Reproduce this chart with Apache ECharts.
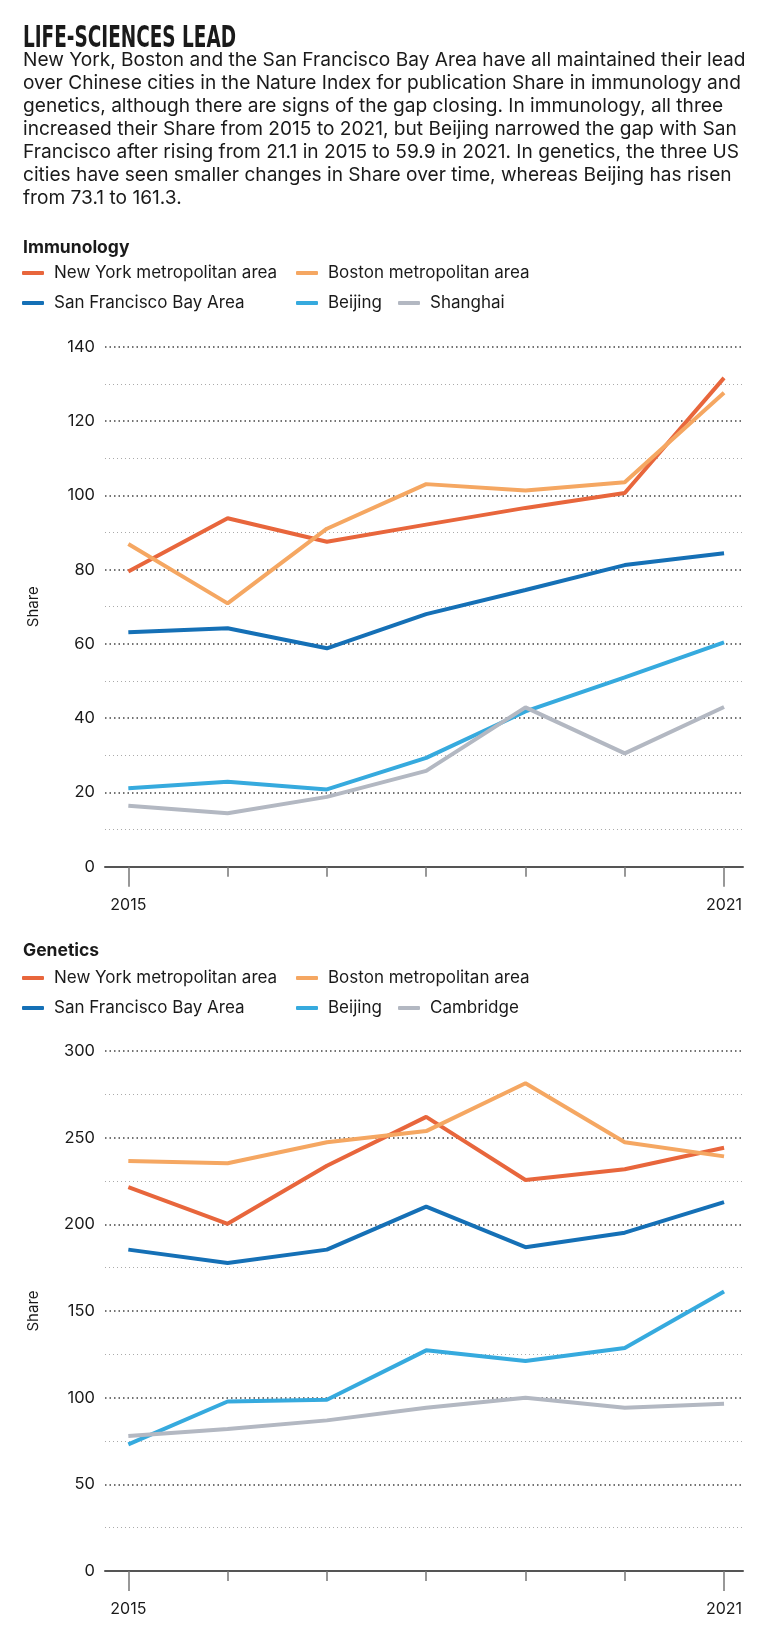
<!DOCTYPE html>
<html>
<head>
<meta charset="utf-8">
<title>Life-sciences lead</title>
<script src="https://cdn.jsdelivr.net/npm/echarts@6/dist/echarts.min.js"></script>
<style>
body { margin: 0; background: #fff; }
#page {
  position: relative;
  width: 767px;
  height: 1644px;
  font-family: Inter, Roboto, "Noto Sans", sans-serif;
  color: #1a1a1a;
}
#chart { position: absolute; left: 0; top: 0; width: 767px; height: 1644px; }
#title {
  position: absolute;
  left: 23px;
  top: 21.5px;
  margin: 0;
  font: bold 30px/30px "Liberation Sans Narrow", "DejaVu Sans Condensed", sans-serif;
  white-space: nowrap;
  transform-origin: left top;
}
#intro {
  position: absolute;
  left: 23px;
  top: 49px;
  margin: 0;
  font-size: 18px;
  line-height: 23px;
  white-space: nowrap;
}
#intro span { display: block; }
.head {
  position: absolute;
  left: 23px;
  margin: 0;
  font-size: 17.5px;
  line-height: 20px;
  font-weight: bold;
}
</style>
</head>
<body>
<div id="page">
  <div id="chart"></div>
  <h1 id="title">LIFE-SCIENCES LEAD</h1>
  <p id="intro"><span>New York, Boston and the San Francisco Bay Area have all maintained their lead</span><span>over Chinese cities in the Nature Index for publication Share in immunology and</span><span>genetics, although there are signs of the gap closing. In immunology, all three</span><span>increased their Share from 2015 to 2021, but Beijing narrowed the gap with San</span><span>Francisco after rising from 21.1 in 2015 to 59.9 in 2021. In genetics, the three US</span><span>cities have seen smaller changes in Share over time, whereas Beijing has risen</span><span>from 73.1 to 161.3.</span></p>
  <p class="head" style="top:237px">Immunology</p>
  <p class="head" style="top:940px">Genetics</p>
</div>
<script>
// years on the x axis
var years = [2015, 2016, 2017, 2018, 2019, 2020, 2021];
var yearLabels = [2015, 2021];

// immunology Share
var immNewYork = [79.5, 93.8, 87.5, 92.1, 96.6, 100.6, 131.6];
var immBoston = [86.9, 70.9, 91.0, 103.0, 101.3, 103.5, 127.6];
var immSanFrancisco = [63.1, 64.2, 58.8, 68.0, 74.5, 81.2, 84.4];
var immBeijing = [21.1, 22.9, 20.8, 29.3, 41.8, 51.0, 60.4];
var immShanghai = [16.4, 14.4, 18.8, 25.8, 42.9, 30.5, 43.0];

// genetics Share
var genNewYork = [221.5, 200.3, 233.8, 262.0, 225.6, 231.8, 244.2];
var genBoston = [236.6, 235.2, 247.4, 253.8, 281.4, 247.4, 239.2];
var genSanFrancisco = [185.4, 177.7, 185.4, 210.2, 186.8, 195.2, 212.8];
var genBeijing = [73.1, 97.8, 98.8, 127.3, 121.2, 128.6, 161.3];
var genCambridge = [77.9, 81.9, 86.9, 94.2, 100.0, 94.2, 96.5];

var colors = {
  "New York metropolitan area": "#e8663c",
  "Boston metropolitan area": "#f5a762",
  "San Francisco Bay Area": "#1570b6",
  "Beijing": "#36aade",
  "Shanghai": "#b3b8c2",
  "Cambridge": "#b3b8c2"
};

var panels = [
  {
    top: 346.7, max: 140, interval: 20, legendTop: 273,
    series: [
      ["New York metropolitan area", immNewYork],
      ["Boston metropolitan area", immBoston],
      ["San Francisco Bay Area", immSanFrancisco],
      ["Beijing", immBeijing],
      ["Shanghai", immShanghai]
    ]
  },
  {
    top: 1051, max: 300, interval: 50, legendTop: 978,
    series: [
      ["New York metropolitan area", genNewYork],
      ["Boston metropolitan area", genBoston],
      ["San Francisco Bay Area", genSanFrancisco],
      ["Beijing", genBeijing],
      ["Cambridge", genCambridge]
    ]
  }
];

// legend item spots: [left, row]
var legendSpots = [[22, 0], [296, 0], [22, 1], [296, 1], [398, 1]];

var xMin = 2014.765;
var xMax = 2021.191;
var textColor = "#1a1a1a";
var font = "Inter, Roboto, 'Noto Sans', sans-serif";

var option = {
  animation: false,
  backgroundColor: "#fff",
  textStyle: { fontFamily: font },
  grid: [],
  xAxis: [],
  yAxis: [],
  legend: [],
  series: []
};

panels.forEach(function (p, pi) {
  option.grid.push({ left: 105, right: 24, top: p.top, height: 520 });

  // axis line with short ticks for every year
  option.xAxis.push({
    type: "value",
    gridIndex: pi,
    position: "bottom",
    min: xMin,
    max: xMax,
    axisLine: { show: true, onZero: false, lineStyle: { color: "#555", width: 2 } },
    axisTick: { show: true, customValues: years, length: 10, lineStyle: { color: "#777", width: 1.5 } },
    axisLabel: { show: false },
    splitLine: { show: false }
  });
  // long ticks and labels at the ends
  option.xAxis.push({
    type: "value",
    gridIndex: pi,
    position: "bottom",
    min: xMin,
    max: xMax,
    axisLine: { show: false, onZero: false },
    axisTick: { show: true, customValues: yearLabels, length: 20, lineStyle: { color: "#777", width: 1.5 } },
    axisLabel: {
      show: true,
      customValues: yearLabels,
      formatter: function (v) { return String(v); },
      fontSize: 16,
      color: textColor,
      margin: 30
    },
    splitLine: { show: false }
  });

  option.yAxis.push({
    type: "value",
    gridIndex: pi,
    min: 0,
    max: p.max,
    interval: p.interval,
    name: "Share",
    nameLocation: "middle",
    nameGap: 64,
    nameTextStyle: { fontSize: 15, color: textColor },
    axisLine: { show: false },
    axisTick: { show: false },
    axisLabel: { fontSize: 16.5, color: textColor, margin: 10 },
    splitLine: { show: true, lineStyle: { color: "#444", width: 1.5, type: [1.5, 3] } },
    minorTick: { show: false, splitNumber: 2 },
    minorSplitLine: { show: true, lineStyle: { color: "#aaa", width: 1, type: [1, 3] } }
  });

  p.series.forEach(function (s, si) {
    var name = s[0];
    var spot = legendSpots[si];
    option.legend.push({
      left: spot[0],
      top: p.legendTop + spot[1] * 30 - 10,
      padding: 0,
      data: [name],
      icon: "roundRect",
      itemWidth: 22,
      itemHeight: 4,
      textStyle: { fontSize: 17, color: textColor, lineHeight: 20, padding: [0, 0, 0, 5] }
    });
    option.series.push({
      name: name,
      type: "line",
      xAxisIndex: pi * 2,
      yAxisIndex: pi,
      showSymbol: false,
      color: colors[name],
      lineStyle: { width: 4 },
      data: years.map(function (y, i) { return [y, s[1][i]]; })
    });
  });
});

var myChart = echarts.init(document.getElementById("chart"));
myChart.setOption(option);

// squeeze the heading to the width of the condensed original
var title = document.getElementById("title");
var w = title.getBoundingClientRect().width;
title.style.transform = "scaleX(" + (213 / w) + ")";

// grow the intro so its widest line runs to the right margin like the original
var intro = document.getElementById("intro");
var widest = 0;
intro.querySelectorAll("span").forEach(function (el) {
  var r = document.createRange();
  r.selectNodeContents(el);
  widest = Math.max(widest, r.getBoundingClientRect().width);
});
var size = 18 * 723 / widest;
intro.style.fontSize = size + "px";
// keep the first baseline where it was
intro.style.top = (49 - (size - 18) * 0.5) + "px";
</script>
</body>
</html>
